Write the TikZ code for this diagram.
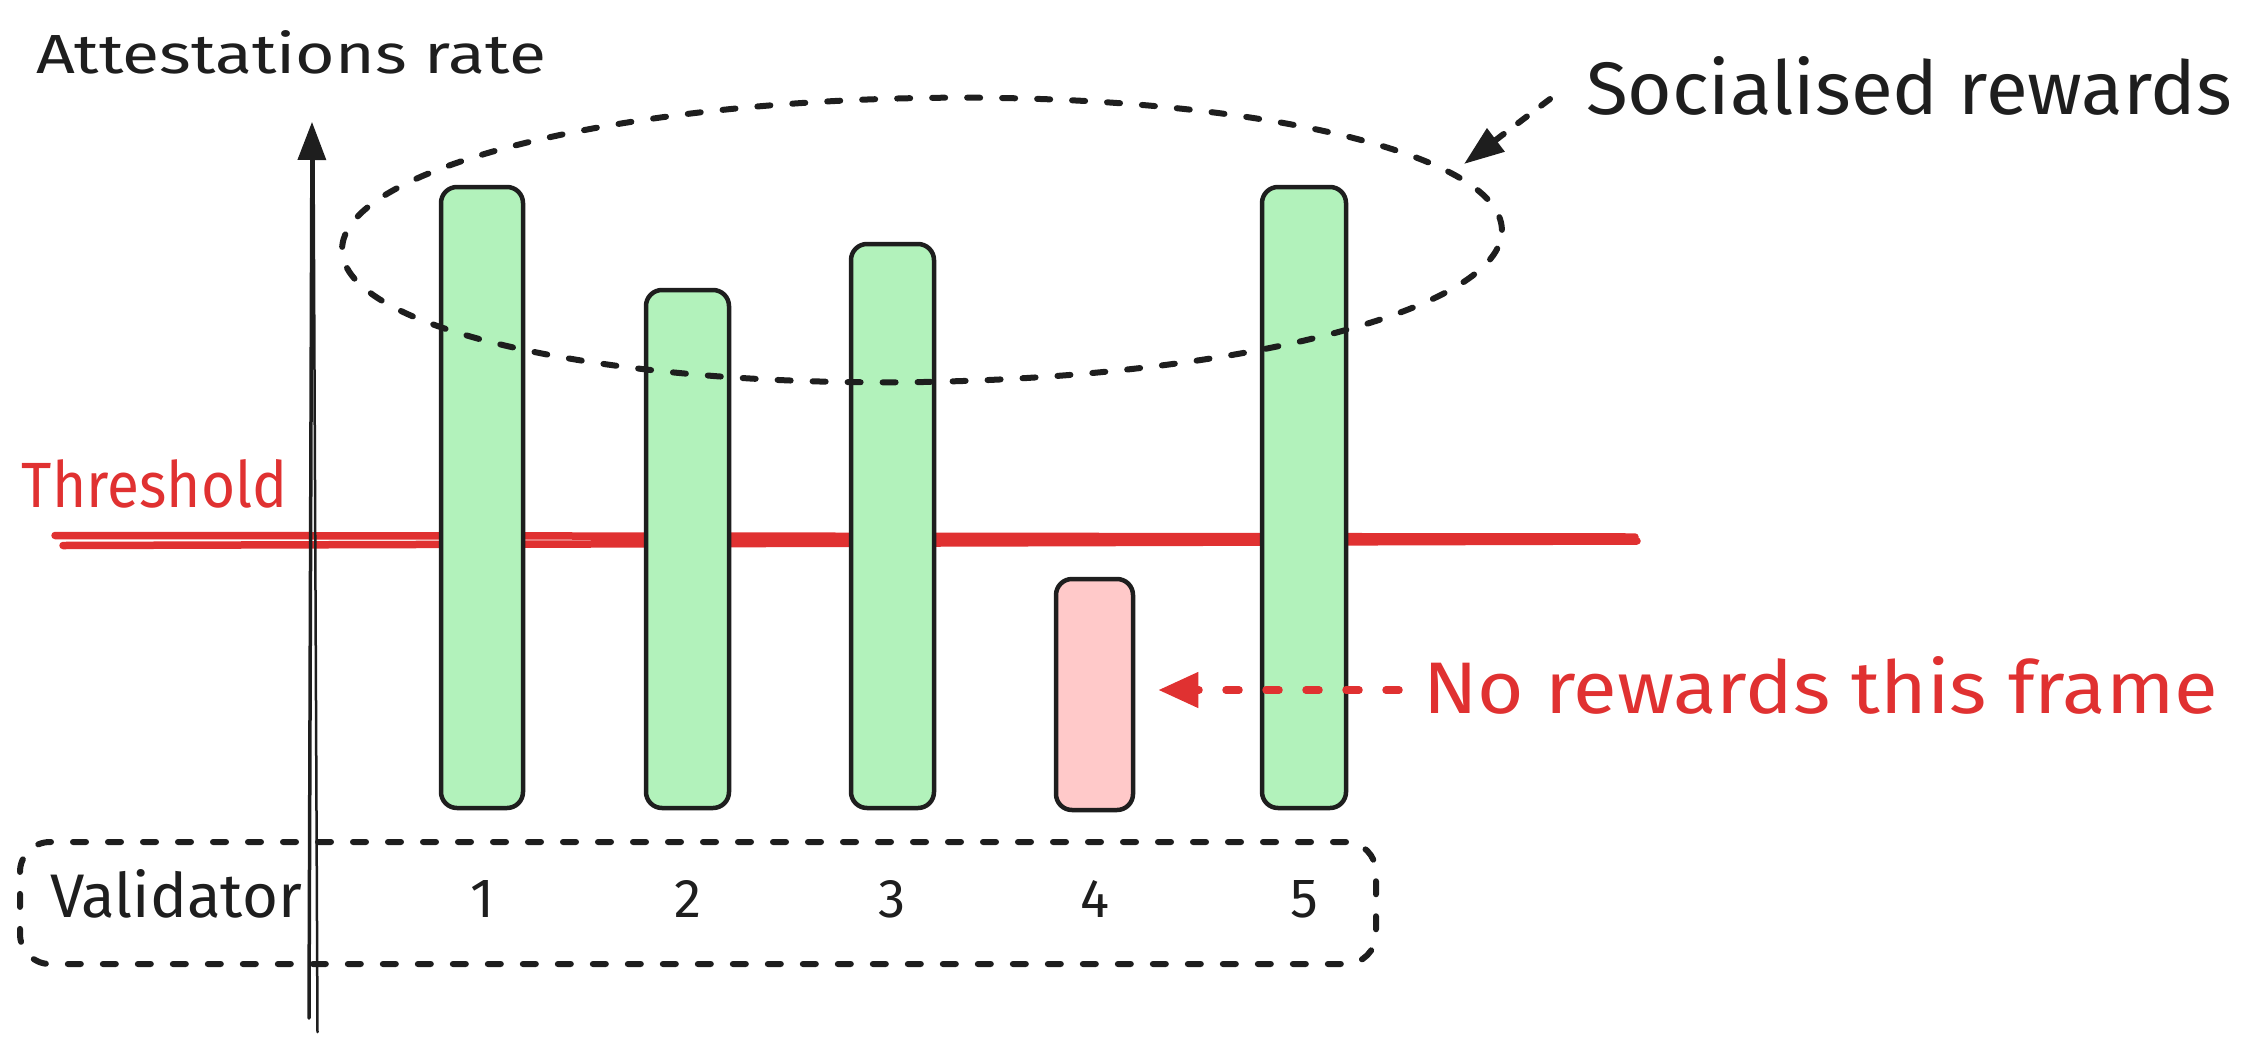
\documentclass[tikz,border=0pt]{standalone}
\usepackage{fontspec}
\setmainfont{Fira Sans}
\usepackage{graphicx}
\usetikzlibrary{arrows.meta,shapes.geometric}
\definecolor{ink}{HTML}{1E1E1E}
\definecolor{xred}{HTML}{E03131}
\definecolor{xgreen}{HTML}{B2F2BB}
\definecolor{xpink}{HTML}{FFC9C9}
\begin{document}
\begin{tikzpicture}[x=1pt,y=-1pt,
  barbox/.style={draw=ink, line width=4.5pt, rounded corners=16pt, inner sep=0pt},
  txt/.style={anchor=base west, inner sep=0pt, outer sep=0pt, font=\fontsize{50}{60}\selectfont},
  digit/.style={anchor=base, inner sep=0pt, outer sep=0pt, text=ink, font=\fontsize{50}{60}\selectfont},
  dashink/.style={draw=ink, line width=6pt, line cap=round, dash pattern=on 13pt off 22pt},
  thresh/.style={draw=xred, line width=7.5pt, line cap=round},
  axisline/.style={draw=ink, line width=3.5pt, line cap=round}
]
\useasboundingbox (0,0) rectangle (2252,1050);

% threshold line
\coordinate (t1a) at (55,535.5);
\coordinate (t1b) at (1635,537);
\coordinate (t2a) at (63,545.5);
\coordinate (t2b) at (1637,541);
\draw[thresh] (t1a) -- (t1b);
\draw[thresh] (t2a) -- (t2b);
\node[txt, text=xred] (thr) at (22,507) {\resizebox{265pt}{48pt}{Threshold}};

% bars
\node[barbox, fill=xgreen, minimum width=82pt, minimum height=621pt] (b1) at (482,497.5) {};
\node[barbox, fill=xgreen, minimum width=83pt, minimum height=518pt] (b2) at (687.5,549) {};
\node[barbox, fill=xgreen, minimum width=83pt, minimum height=564pt] (b3) at (892.5,526) {};
\node[barbox, fill=xpink, minimum width=77pt, minimum height=231pt] (b4) at (1094.5,694.5) {};
\node[barbox, fill=xgreen, minimum width=84pt, minimum height=621pt] (b5) at (1304,497.5) {};

% axis
\coordinate (ax0) at (309,1018);
\coordinate (ax1) at (312,122);
\coordinate (ax2) at (317.5,1032);
\coordinate (ax3) at (313.5,150);
\draw[axisline, -{Triangle[length=38pt,width=28pt]}] (ax0) -- (ax1);
\draw[axisline, line width=2.5pt] (ax2) -- (ax3);
\node[txt, text=ink] (att) at (36,73) {\resizebox{510pt}{43pt}{Attestations rate}};

% validator box
\node[dashink, rounded corners=30pt, minimum width=1356pt, minimum height=122pt, inner sep=0pt] (vbox) at (698,903) {};
\node[txt, text=ink] (val) at (50,917) {\resizebox{252pt}{48pt}{Validator}};
\node[digit] (n1) at (b1 |- val.base) {\resizebox{!}{37pt}{1}};
\node[digit] (n2) at (b2 |- val.base) {\resizebox{!}{37pt}{2}};
\node[digit] (n3) at (b3 |- val.base) {\resizebox{!}{37pt}{3}};
\node[digit] (n4) at (b4 |- val.base) {\resizebox{!}{37pt}{4}};
\node[digit] (n5) at (b5 |- val.base) {\resizebox{!}{37pt}{5}};

% socialised rewards ellipse
\node[ellipse, dashink, minimum width=1160pt, minimum height=284pt, inner sep=0pt, rotate=1] (soc) at (922,240) {};
\node[txt, text=ink] (soclab) at (1586,114) {\resizebox{646pt}{58pt}{Socialised rewards}};
\coordinate (s1) at (1550,99);
\coordinate (s2) at (1464,164);
\draw[dashink, dash pattern=on 11pt off 18pt, -{Triangle[length=40pt,width=28pt]}] (s1) -- (s2);

% no rewards
\node[txt, text=xred] (norew) at (1423,713) {\resizebox{795pt}{57pt}{No rewards this frame}};
\coordinate (r1) at (1399,690);
\draw[draw=xred, line width=7.5pt, line cap=round, dash pattern=on 13pt off 27pt, -{Triangle[length=40pt,width=34pt]}, shorten >=23pt] (r1) -- (b4.east |- r1);
\end{tikzpicture}
\end{document}
